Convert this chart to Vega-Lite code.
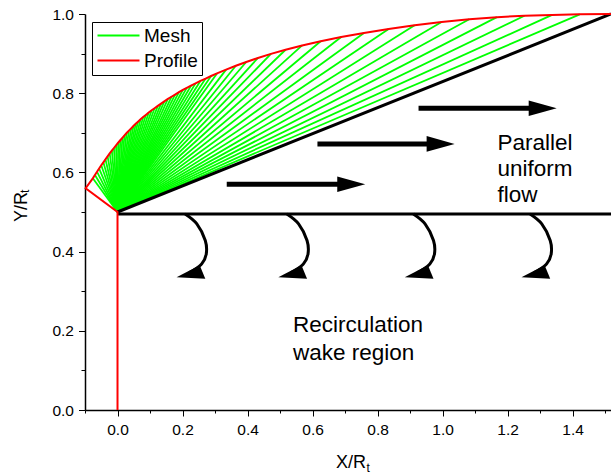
{
  "$schema": "https://vega.github.io/schema/vega-lite/v6.json",
  "width": 526,
  "height": 396,
  "autosize": {"type": "none"},
  "padding": {"left": 85, "top": 14, "right": 0, "bottom": 65},
  "config": {
    "view": {"stroke": null},
    "font": "Liberation Sans",
    "axis": {
      "grid": false,
      "title": null,
      "domainColor": "#000000",
      "domainWidth": 1.5,
      "tickColor": "#000000",
      "tickWidth": 1,
      "labelColor": "#000000",
      "labelFont": "Liberation Sans",
      "labelFontSize": 15.5,
      "labelOverlap": false,
      "labelFlush": false
    }
  },
  "datasets": {
    "wall": [
      {"k": 0, "x": 0, "y": 0, "m": 0},
      {"k": 1, "x": 0, "y": 0.5, "m": 0},
      {"k": 2, "x": -0.098, "y": 0.56, "m": 0},
      {"k": 3, "x": -0.076, "y": 0.585, "m": 1},
      {"k": 4, "x": -0.0695, "y": 0.5933, "m": 1},
      {"k": 5, "x": -0.063, "y": 0.6015, "m": 1},
      {"k": 6, "x": -0.0565, "y": 0.6097, "m": 1},
      {"k": 7, "x": -0.05, "y": 0.618, "m": 1},
      {"k": 8, "x": -0.0435, "y": 0.6255, "m": 1},
      {"k": 9, "x": -0.037, "y": 0.6331, "m": 1},
      {"k": 10, "x": -0.0305, "y": 0.6406, "m": 1},
      {"k": 11, "x": -0.024, "y": 0.648, "m": 1},
      {"k": 12, "x": -0.0175, "y": 0.6548, "m": 1},
      {"k": 13, "x": -0.011, "y": 0.6616, "m": 1},
      {"k": 14, "x": -0.0045, "y": 0.6683, "m": 1},
      {"k": 15, "x": 0.002, "y": 0.6749, "m": 1},
      {"k": 16, "x": 0.0085, "y": 0.6812, "m": 1},
      {"k": 17, "x": 0.015, "y": 0.6874, "m": 1},
      {"k": 18, "x": 0.0215, "y": 0.6936, "m": 1},
      {"k": 19, "x": 0.028, "y": 0.6995, "m": 1},
      {"k": 20, "x": 0.035, "y": 0.7054, "m": 1},
      {"k": 21, "x": 0.042, "y": 0.7113, "m": 1},
      {"k": 22, "x": 0.049, "y": 0.7172, "m": 1},
      {"k": 23, "x": 0.056, "y": 0.7226, "m": 1},
      {"k": 24, "x": 0.063, "y": 0.7279, "m": 1},
      {"k": 25, "x": 0.071, "y": 0.734, "m": 1},
      {"k": 26, "x": 0.079, "y": 0.7397, "m": 1},
      {"k": 27, "x": 0.087, "y": 0.7452, "m": 1},
      {"k": 28, "x": 0.096, "y": 0.7513, "m": 1},
      {"k": 29, "x": 0.105, "y": 0.7569, "m": 1},
      {"k": 30, "x": 0.114, "y": 0.7621, "m": 1},
      {"k": 31, "x": 0.124, "y": 0.7679, "m": 1},
      {"k": 32, "x": 0.134, "y": 0.7737, "m": 1},
      {"k": 33, "x": 0.144, "y": 0.7795, "m": 1},
      {"k": 34, "x": 0.155, "y": 0.7855, "m": 1},
      {"k": 35, "x": 0.166, "y": 0.791, "m": 1},
      {"k": 36, "x": 0.177, "y": 0.7965, "m": 1},
      {"k": 37, "x": 0.189, "y": 0.8025, "m": 1},
      {"k": 38, "x": 0.201, "y": 0.8084, "m": 1},
      {"k": 39, "x": 0.213, "y": 0.8134, "m": 1},
      {"k": 40, "x": 0.226, "y": 0.8189, "m": 1},
      {"k": 41, "x": 0.24, "y": 0.8248, "m": 1},
      {"k": 42, "x": 0.255, "y": 0.8309, "m": 1},
      {"k": 43, "x": 0.271, "y": 0.837, "m": 1},
      {"k": 44, "x": 0.288, "y": 0.8434, "m": 1},
      {"k": 45, "x": 0.306, "y": 0.85, "m": 1},
      {"k": 46, "x": 0.334, "y": 0.8596, "m": 1},
      {"k": 47, "x": 0.364, "y": 0.8692, "m": 1},
      {"k": 48, "x": 0.396, "y": 0.8788, "m": 1},
      {"k": 49, "x": 0.432, "y": 0.889, "m": 1},
      {"k": 50, "x": 0.472, "y": 0.8993, "m": 1},
      {"k": 51, "x": 0.517, "y": 0.9097, "m": 1},
      {"k": 52, "x": 0.568, "y": 0.9206, "m": 1},
      {"k": 53, "x": 0.625, "y": 0.9313, "m": 1},
      {"k": 54, "x": 0.688, "y": 0.942, "m": 1},
      {"k": 55, "x": 0.758, "y": 0.9521, "m": 1},
      {"k": 56, "x": 0.834, "y": 0.9621, "m": 1},
      {"k": 57, "x": 0.914, "y": 0.9714, "m": 1},
      {"k": 58, "x": 0.997, "y": 0.9797, "m": 1},
      {"k": 59, "x": 1.082, "y": 0.9866, "m": 1},
      {"k": 60, "x": 1.167, "y": 0.992, "m": 1},
      {"k": 61, "x": 1.252, "y": 0.9956, "m": 1},
      {"k": 62, "x": 1.337, "y": 0.9977, "m": 1},
      {"k": 63, "x": 1.422, "y": 0.9992, "m": 1},
      {"k": 64, "x": 1.518, "y": 1.0, "m": 0}
    ],
    "boundaries": [
      {"name": "last characteristic", "x": 0, "y": 0.5, "x2": 1.518, "y2": 1.0},
      {"name": "shear layer", "x": 0, "y": 0.495, "x2": 1.518, "y2": 0.495}
    ],
    "arrows": [
      {"x": 0.336, "y": 0.570, "tip": 0.762},
      {"x": 0.615, "y": 0.672, "tip": 1.037},
      {"x": 0.926, "y": 0.762, "tip": 1.351}
    ],
    "curls": [
      {"id": 1, "k": 0, "x": 0.208, "y": 0.495},
      {"id": 1, "k": 1, "x": 0.244, "y": 0.470},
      {"id": 1, "k": 2, "x": 0.270, "y": 0.428},
      {"id": 1, "k": 3, "x": 0.273, "y": 0.394},
      {"id": 1, "k": 4, "x": 0.259, "y": 0.369},
      {"id": 1, "k": 5, "x": 0.234, "y": 0.353},
      {"id": 1, "k": 6, "x": 0.220, "y": 0.347},
      {"id": 2, "k": 0, "x": 0.521, "y": 0.495},
      {"id": 2, "k": 1, "x": 0.557, "y": 0.470},
      {"id": 2, "k": 2, "x": 0.583, "y": 0.428},
      {"id": 2, "k": 3, "x": 0.586, "y": 0.394},
      {"id": 2, "k": 4, "x": 0.572, "y": 0.369},
      {"id": 2, "k": 5, "x": 0.547, "y": 0.353},
      {"id": 2, "k": 6, "x": 0.533, "y": 0.347},
      {"id": 3, "k": 0, "x": 0.910, "y": 0.495},
      {"id": 3, "k": 1, "x": 0.946, "y": 0.470},
      {"id": 3, "k": 2, "x": 0.972, "y": 0.428},
      {"id": 3, "k": 3, "x": 0.975, "y": 0.394},
      {"id": 3, "k": 4, "x": 0.961, "y": 0.369},
      {"id": 3, "k": 5, "x": 0.936, "y": 0.353},
      {"id": 3, "k": 6, "x": 0.922, "y": 0.347},
      {"id": 4, "k": 0, "x": 1.269, "y": 0.495},
      {"id": 4, "k": 1, "x": 1.305, "y": 0.470},
      {"id": 4, "k": 2, "x": 1.331, "y": 0.428},
      {"id": 4, "k": 3, "x": 1.334, "y": 0.394},
      {"id": 4, "k": 4, "x": 1.320, "y": 0.369},
      {"id": 4, "k": 5, "x": 1.295, "y": 0.353},
      {"id": 4, "k": 6, "x": 1.281, "y": 0.347}
    ],
    "curlHeads": [
      {"x": 0.235, "y": 0.344},
      {"x": 0.548, "y": 0.344},
      {"x": 0.937, "y": 0.344},
      {"x": 1.296, "y": 0.344}
    ],
    "wakeNote": [{"x": 0.540, "y": 0.198, "text": ["Recirculation", "wake region"]}],
    "flowNote": [{"x": 1.169, "y": 0.657, "text": ["Parallel", "uniform", "flow"]}],
    "titleMain": [
      {"axis": "x", "x": 0.672, "y": -0.146, "text": "X/R"},
      {"axis": "y", "x": -0.278, "y": 0.475, "text": "Y/R"}
    ],
    "titleSub": [
      {"axis": "x", "x": 0.766, "y": -0.157, "text": "t"},
      {"axis": "y", "x": -0.273, "y": 0.548, "text": "t"}
    ]
  },
  "encoding": {
    "x": {
      "field": "x",
      "type": "quantitative",
      "scale": {"domain": [-0.1, 1.518], "nice": false, "zero": false},
      "axis": {
        "values": [-0.1, 0, 0.1, 0.2, 0.3, 0.4, 0.5, 0.6, 0.7, 0.8, 0.9, 1.0, 1.1, 1.2, 1.3, 1.4, 1.5],
        "labelExpr": "abs(datum.value*5 - round(datum.value*5)) < 0.001 ? format(datum.value, '.1f') : ''",
        "tickSize": {"condition": {"test": "abs(datum.value*5 - round(datum.value*5)) < 0.001", "value": 6}, "value": 3},
        "labelPadding": 6,
        "labelFontSize": 15.5
      }
    },
    "y": {
      "field": "y",
      "type": "quantitative",
      "scale": {"domain": [0, 1], "nice": false, "zero": false},
      "axis": {
        "values": [0, 0.1, 0.2, 0.3, 0.4, 0.5, 0.6, 0.7, 0.8, 0.9, 1.0],
        "labelExpr": "abs(datum.value*5 - round(datum.value*5)) < 0.001 ? format(datum.value, '.1f') : ''",
        "tickSize": {"condition": {"test": "abs(datum.value*5 - round(datum.value*5)) < 0.001", "value": 6.5}, "value": 4},
        "labelPadding": 5,
        "labelFontSize": 15.5
      }
    }
  },
  "layer": [
    {
      "data": {"name": "wall"},
      "transform": [{"filter": "datum.m == 1"}],
      "mark": {"type": "rule", "strokeWidth": 1.8},
      "encoding": {
        "x2": {"datum": 0},
        "y2": {"datum": 0.5},
        "color": {
          "datum": "Mesh",
          "type": "nominal",
          "scale": {"domain": ["Mesh", "Profile"], "range": ["#00ff00", "#ff0000"]},
          "legend": {
            "title": null,
            "orient": "none",
            "legendX": 7,
            "legendY": 8,
            "strokeColor": "#000000",
            "padding": 4,
            "rowPadding": 5,
            "symbolType": "M-3,0L3,0",
            "symbolSize": 196,
            "symbolStrokeWidth": 2,
            "symbolOffset": 13,
            "labelOffset": 16,
            "labelFont": "Liberation Sans",
            "labelFontSize": 19,
            "labelColor": "#000000"
          }
        }
      }
    },
    {
      "data": {"name": "boundaries"},
      "mark": {"type": "rule", "color": "#000000", "strokeWidth": 3},
      "encoding": {"x2": {"field": "x2"}, "y2": {"field": "y2"}}
    },
    {
      "data": {"name": "wall"},
      "mark": {"type": "line", "strokeWidth": 2},
      "encoding": {
        "order": {"field": "k"},
        "color": {"datum": "Profile", "type": "nominal"}
      }
    },
    {
      "data": {"name": "arrows"},
      "mark": {"type": "rule", "color": "#000000", "strokeWidth": 5, "x2Offset": -14},
      "encoding": {"x2": {"field": "tip"}}
    },
    {
      "data": {"name": "arrows"},
      "mark": {"type": "point", "shape": "M0,0L-2,-0.56L-2,0.56Z", "size": 784, "filled": true, "color": "#000000", "opacity": 1},
      "encoding": {"x": {"field": "tip", "type": "quantitative"}}
    },
    {
      "data": {"name": "curls"},
      "mark": {"type": "line", "color": "#000000", "strokeWidth": 3, "interpolate": "cardinal"},
      "encoding": {"detail": {"field": "id"}, "order": {"field": "k"}}
    },
    {
      "data": {"name": "curlHeads"},
      "mark": {"type": "point", "shape": "M-1.37,0.27L0.46,-0.67L0.9,0.4Z", "size": 640, "filled": true, "color": "#000000", "opacity": 1}
    },
    {
      "data": {"name": "wakeNote"},
      "mark": {"type": "text", "align": "left", "baseline": "alphabetic", "fontSize": 22.5, "lineHeight": 28.5, "font": "Liberation Sans", "color": "#000000"},
      "encoding": {"text": {"field": "text"}}
    },
    {
      "data": {"name": "flowNote"},
      "mark": {"type": "text", "align": "left", "baseline": "alphabetic", "fontSize": 22.5, "lineHeight": 26, "font": "Liberation Sans", "color": "#000000"},
      "encoding": {"text": {"field": "text"}}
    },
    {
      "data": {"name": "titleMain"},
      "transform": [{"filter": "datum.axis == 'x'"}],
      "mark": {"type": "text", "align": "left", "baseline": "alphabetic", "fontSize": 18, "font": "Liberation Sans", "color": "#000000"},
      "encoding": {"text": {"field": "text"}}
    },
    {
      "data": {"name": "titleSub"},
      "transform": [{"filter": "datum.axis == 'x'"}],
      "mark": {"type": "text", "align": "left", "baseline": "alphabetic", "fontSize": 12, "font": "Liberation Sans", "color": "#000000"},
      "encoding": {"text": {"field": "text"}}
    },
    {
      "data": {"name": "titleMain"},
      "transform": [{"filter": "datum.axis == 'y'"}],
      "mark": {"type": "text", "align": "left", "baseline": "alphabetic", "angle": 270, "fontSize": 18, "font": "Liberation Sans", "color": "#000000"},
      "encoding": {"text": {"field": "text"}}
    },
    {
      "data": {"name": "titleSub"},
      "transform": [{"filter": "datum.axis == 'y'"}],
      "mark": {"type": "text", "align": "left", "baseline": "alphabetic", "angle": 270, "fontSize": 12, "font": "Liberation Sans", "color": "#000000"},
      "encoding": {"text": {"field": "text"}}
    }
  ]
}
